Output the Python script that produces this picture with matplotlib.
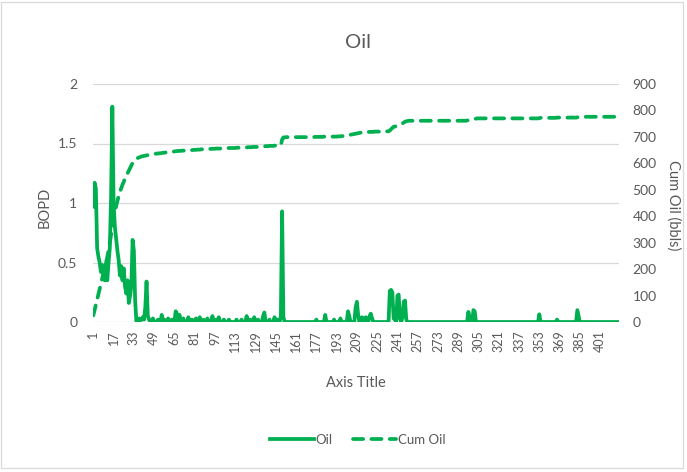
import matplotlib.pyplot as plt
import numpy as np
from matplotlib.patches import Rectangle
from matplotlib.ticker import FuncFormatter

# number of daily records
n_days = 415

# daily oil rate (BOPD), only the days that are not zero
oil_days = [1, 2, 3, 4, 5, 6, 7, 8, 9, 10,
            11, 12, 13, 14, 15, 16, 17, 18, 19, 20,
            21, 22, 23, 24, 25, 26, 27, 28, 29, 30,
            31, 32, 33, 34, 36, 37, 38, 39, 40, 41,
            42, 43, 44, 45, 48, 52, 55, 57, 60, 63,
            66, 67, 69, 72, 76, 79, 82, 85, 88, 91,
            95, 98, 100, 104, 108, 114, 118, 122, 125, 128,
            131, 135, 136, 140, 144, 146, 149, 150, 151, 177,
            184, 191, 196, 202, 203, 208, 209, 210, 212, 213,
            215, 216, 219, 220, 221, 235, 236, 237, 238, 239,
            241, 242, 243, 245, 246, 247, 248, 297, 298, 301,
            302, 353, 367, 383, 384]
oil_vals = [0.97, 1.17, 1.12, 0.62, 0.55, 0.50, 0.42, 0.48, 0.40, 0.35,
            0.49, 0.35, 0.50, 0.62, 1.05, 1.81, 1.00, 0.80, 0.70, 0.60,
            0.52, 0.39, 0.47, 0.35, 0.45, 0.30, 0.24, 0.35, 0.16, 0.22,
            0.30, 0.69, 0.60, 0.18, 0.02, 0.03, 0.01, 0.02, 0.04, 0.02,
            0.12, 0.34, 0.05, 0.02, 0.03, 0.02, 0.06, 0.02, 0.03, 0.02,
            0.09, 0.07, 0.06, 0.03, 0.04, 0.02, 0.03, 0.04, 0.02, 0.03,
            0.05, 0.02, 0.04, 0.02, 0.02, 0.02, 0.02, 0.05, 0.02, 0.04,
            0.02, 0.05, 0.08, 0.02, 0.04, 0.02, 0.05, 0.93, 0.04, 0.02,
            0.06, 0.02, 0.03, 0.09, 0.05, 0.12, 0.17, 0.06, 0.03, 0.04,
            0.03, 0.04, 0.05, 0.07, 0.03, 0.26, 0.27, 0.25, 0.03, 0.02,
            0.22, 0.23, 0.03, 0.04, 0.17, 0.18, 0.02, 0.085, 0.04, 0.10,
            0.09, 0.065, 0.02, 0.10, 0.05]

# cumulative oil (bbls), one value per day
cum_oil = [
    25, 45, 65, 85, 105, 125, 145, 165, 185, 205,
    225, 245, 270, 300, 330, 360, 390, 415, 438, 458,
    476, 492, 506, 519, 531, 542, 552, 562, 572, 582,
    592, 601, 609, 614, 617, 620, 622, 624, 626, 627,
    628, 629, 630, 631, 632, 633, 634, 635, 636, 636,
    637, 637, 638, 638, 639, 640, 640, 641, 641, 642,
    642, 643, 643, 644, 645, 646, 646, 647, 647, 647,
    648, 648, 648, 649, 649, 649, 650, 650, 650, 651,
    651, 651, 652, 652, 652, 653, 653, 653, 653, 654,
    654, 654, 654, 655, 655, 655, 655, 656, 656, 656,
    656, 656, 657, 657, 657, 657, 657, 658, 658, 658,
    658, 658, 658, 659, 659, 659, 659, 659, 660, 660,
    660, 660, 661, 661, 661, 661, 662, 662, 662, 662,
    663, 663, 663, 664, 664, 664, 665, 665, 665, 666,
    666, 666, 666, 667, 667, 667, 667, 668, 668, 690,
    698, 698, 699, 699, 699, 699, 699, 699, 699, 699,
    699, 699, 699, 699, 699, 699, 699, 699, 699, 699,
    699, 699, 699, 699, 699, 700, 700, 700, 700, 700,
    700, 700, 701, 701, 701, 701, 701, 701, 701, 701,
    701, 701, 701, 702, 702, 702, 703, 703, 704, 705,
    705, 706, 707, 708, 709, 710, 711, 712, 713, 714,
    715, 716, 716, 717, 717, 718, 718, 718, 719, 719,
    719, 719, 720, 720, 720, 720, 720, 720, 720, 720,
    720, 720, 721, 721, 724, 729, 734, 738, 739, 741,
    744, 747, 749, 750, 751, 754, 757, 759, 760, 761,
    761, 761, 761, 761, 761, 761, 761, 761, 761, 761,
    761, 761, 761, 761, 761, 761, 761, 761, 761, 761,
    761, 761, 761, 761, 761, 761, 761, 761, 761, 761,
    761, 761, 761, 761, 761, 761, 761, 761, 761, 761,
    761, 761, 761, 761, 761, 762, 763, 764, 765, 766,
    767, 768, 769, 770, 770, 770, 770, 770, 770, 770,
    770, 770, 770, 770, 770, 770, 770, 770, 770, 770,
    770, 770, 770, 770, 770, 770, 770, 770, 770, 770,
    770, 770, 770, 770, 770, 770, 770, 770, 770, 770,
    770, 770, 770, 770, 770, 770, 770, 770, 770, 770,
    770, 770, 771, 772, 772, 772, 772, 772, 772, 772,
    772, 772, 772, 772, 772, 772, 773, 773, 773, 773,
    773, 773, 773, 773, 773, 773, 773, 773, 773, 773,
    773, 773, 774, 775, 776, 776, 776, 776, 776, 776,
    776, 776, 776, 776, 776, 776, 776, 776, 776, 776,
    776, 776, 776, 776, 776, 776, 776, 776, 776, 776,
    776, 776, 776, 776, 776]

green = '#00B050'
grey_txt = '#595959'
grid_c = '#D9D9D9'

days = np.arange(1, n_days + 1)
oil = np.zeros(n_days)
oil[np.array(oil_days) - 1] = oil_vals

plt.rcParams['font.family'] = ['Lato', 'DejaVu Sans']

fig = plt.figure(figsize=(6.87, 4.72), dpi=100)
ax = fig.add_axes([92.7 / 687, 1 - 322 / 472, (618.5 - 92.7) / 687, (322 - 84) / 472])
ax2 = ax.twinx()

l1, = ax.plot(days, oil, color=green, lw=2.7, solid_joinstyle='round', zorder=3)
l2, = ax2.plot(days, cum_oil, color=green, lw=2.7, dashes=(2.7, 2.2),
               dash_capstyle='round', zorder=3)

ax.set_xlim(0.5, n_days + 0.5)
ax.set_ylim(0, 2)
ax2.set_ylim(0, 900)
ax.set_yticks([0, 0.5, 1, 1.5, 2])
ax.yaxis.set_major_formatter(FuncFormatter(lambda v, p: '%g' % v))
ax2.set_yticks(np.arange(0, 901, 100))
ax.set_xticks(np.arange(1, n_days + 1, 16))
ax.set_xticklabels([str(d) for d in np.arange(1, n_days + 1, 16)], rotation=90)

ax.grid(axis='y', color=grid_c, lw=0.9, zorder=0)
ax.set_axisbelow(True)
for a in (ax, ax2):
    for s in a.spines.values():
        s.set_visible(False)
ax.tick_params(axis='x', length=0, pad=6, labelsize=9, colors=grey_txt)
ax.tick_params(axis='y', length=0, pad=11, labelsize=10, colors=grey_txt)
ax2.tick_params(axis='y', length=0, pad=10, labelsize=10, colors=grey_txt)

fig.text(358 / 687, 1 - 42 / 472, 'Oil', ha='center', va='center', fontsize=14.5, color=grey_txt)
fig.text(356 / 687, 1 - 383 / 472, 'Axis Title', ha='center', va='center', fontsize=10.5, color=grey_txt)
fig.text(45 / 687, 1 - 207 / 472, 'BOPD', ha='center', va='center', rotation=90, fontsize=10.5, color=grey_txt)
fig.text(673 / 687, 1 - 205 / 472, 'Cum Oil (bbls)', ha='center', va='center', rotation=270,
         fontsize=10.5, color=grey_txt)

leg = fig.legend([l1, l2], ['Oil', 'Cum Oil'], loc='center', bbox_to_anchor=(358 / 687, 1 - 440 / 472),
                 ncol=2, frameon=False, fontsize=9.5, handlelength=3.3, columnspacing=1.5, handletextpad=0.15)
for t in leg.get_texts():
    t.set_color(grey_txt)

fig.patches.append(Rectangle((1 / 687, 1 - 468 / 472), 682 / 687, 466 / 472, transform=fig.transFigure,
                             fill=False, edgecolor=grid_c, lw=0.9))

fig.savefig('out.png', dpi=100)
